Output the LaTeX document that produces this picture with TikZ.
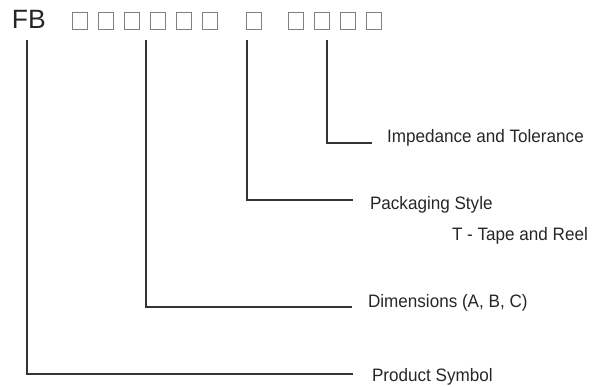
\documentclass[tikz,border=0pt]{standalone}
\usepackage{fontspec}
\setmainfont{Liberation Sans}
\usetikzlibrary{positioning}
\newcommand{\narrow}[1]{\scalebox{0.95}[1]{#1}}

\begin{document}
\begin{tikzpicture}[x=1pt,y=-1pt]
\tikzstyle{every node}=[inner sep=0pt,outer sep=0pt]
\tikzstyle{digit}=[draw=black!50,line width=1.1pt,minimum width=15pt,minimum height=17pt]
\tikzstyle{part}=[text=black!85,font=\fontsize{18}{21}\selectfont]
\tikzstyle{lead}=[draw=black!80,line width=1.8pt]
\useasboundingbox (0,0) rectangle (605,387);
% code
\node[anchor=base west,text=black!85,font=\fontsize{26.5}{30}\selectfont] (fb) at (12,29) {FB};
\foreach \x [count=\i] in {80,106,132,158,184,210,254,296,322,348,374}
	\node[digit] (b\i) at (\x,21) {};
% corners of the leads
\coordinate (t1) at (27,40);
\coordinate (t2) at (146,40);
\coordinate (t3) at (247,40);
\coordinate (t4) at (327,40);
\coordinate (e1) at (353,374);
\coordinate (e2) at (352,307);
\coordinate (e3) at (353,200);
\coordinate (e4) at (372,143);
% labels
\node[part, right=19pt of e1, anchor=base west, yshift=-7pt] (prod) {\narrow{Product Symbol}};
\node[part, right=16pt of e2, anchor=base west, yshift=-1pt] (dim) {\narrow{Dimensions (A, B, C)}};
\node[part, right=17pt of e3, anchor=base west, yshift=-10pt] (pack) {\narrow{Packaging Style}};
\node[part, anchor=base west] (tape) at ([xshift=82pt,yshift=-31pt]pack.base west) {\narrow{T - Tape and Reel}};
\node[part, right=15pt of e4, anchor=base west] (imp) {\narrow{Impedance and Tolerance}};
% leads
\foreach \i in {1,2,3,4}
	\draw[lead] (t\i) |- (e\i);
\end{tikzpicture}
\end{document}
